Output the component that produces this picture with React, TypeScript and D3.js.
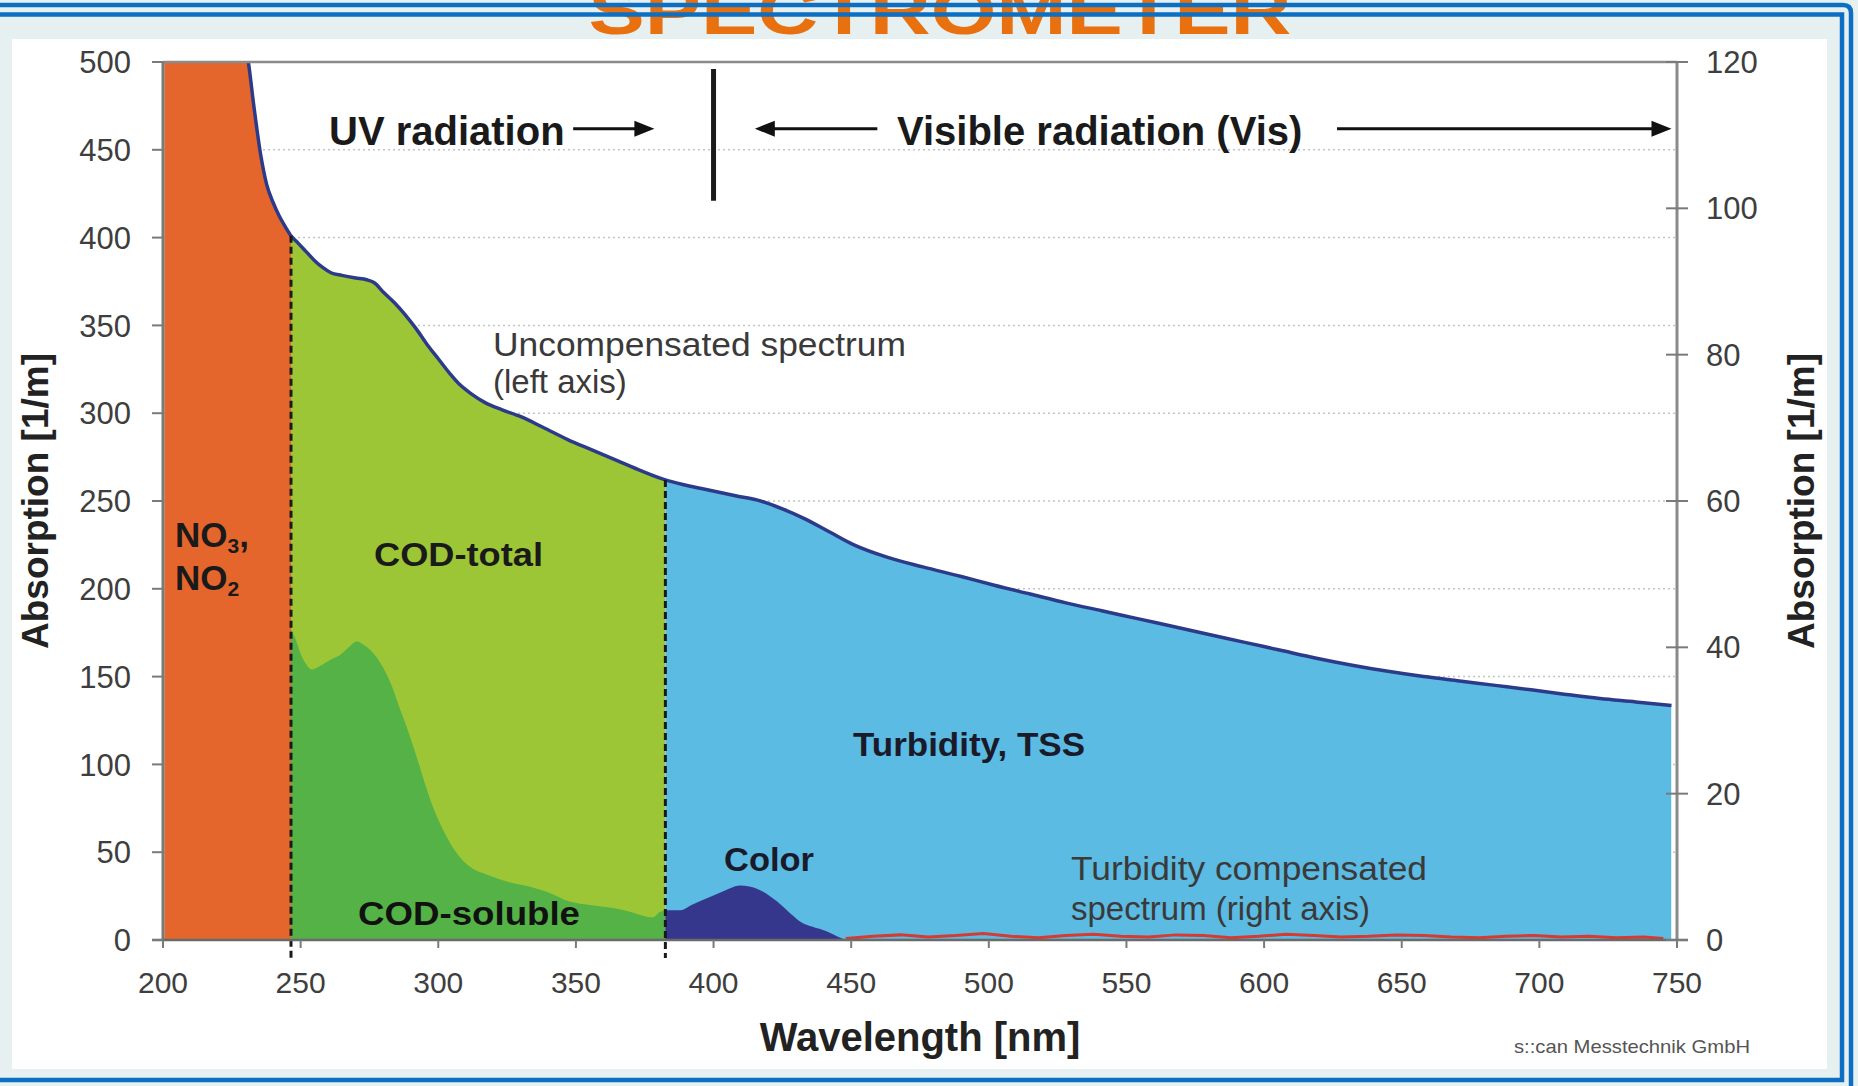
import React from 'react';
import * as d3 from 'd3';

// ---------- data ----------
// Uncompensated spectrum (left axis), wavelength [nm] / absorption [1/m]
const specWl = [
  200, 220, 228, 231, 233, 235.5, 237.7, 240, 242, 244.5,
  246.5, 249, 252, 255, 258, 261, 265, 270, 274, 277,
  280, 284, 288, 292, 296, 300, 304, 308, 312, 317,
  323, 330, 338, 347, 356, 365, 374, 382.5, 390, 399,
  408, 416, 425, 433, 442, 451, 463, 476, 490, 502,
  515, 528, 541, 554, 567, 580, 593, 606, 619, 632,
  645, 658, 671, 684, 697, 709, 722, 735, 748,
];
const specAbs = [
  700, 580, 520, 500, 475, 447, 430, 420, 413, 406,
  401, 397, 392, 387, 383, 380, 378.5, 377, 376, 374,
  369, 363, 356, 348, 339, 331, 323, 316, 311, 306,
  302, 298, 292, 285, 279, 273, 267, 262, 259, 256,
  253, 250.5, 245.5, 240, 232.5, 225, 218, 212.5, 207, 202,
  197, 192, 187.5, 183, 178.5, 174, 169.5, 165, 160.5, 156.5,
  153, 150, 147.5, 145, 142.5, 140, 137.5, 135.6, 133.5,
];

// COD-soluble part (left axis)
const solWl = [
  246.5, 248, 250, 252, 254, 257, 260.7, 264, 267, 270.4,
  273, 277.6, 281, 283.8, 286, 288.5, 292.2, 295.8, 298.5, 301.8,
  306, 311.5, 318, 327, 333, 339.4, 348, 355, 363.5, 370,
  375.7, 378, 380.5, 382.5,
];
const solAbs = [
  176.5, 172, 163, 157, 154, 156, 159.5, 162, 166, 170,
  168, 161, 152, 142, 132, 121.5, 104, 86, 74, 62.6,
  51, 41.7, 37, 32.4, 30.5, 27.5, 21.8, 20, 18.2, 16,
  13.3, 13, 16, 17,
];

// Color part (left axis)
const colWl = [382.5, 388, 392, 398, 404, 409.5, 413, 418, 423, 428, 432, 436, 441, 445, 448];
const colAbs = [17, 17, 20, 24, 28, 31, 30.5, 27.5, 22, 15, 10, 7.5, 5, 2, 0];

// Turbidity compensated spectrum (right axis)
const compWl = [
  448, 458, 468, 478, 488, 498, 508, 518, 528, 538,
  548, 558, 568, 578, 588, 598, 608, 618, 628, 638,
  648, 658, 668, 678, 688, 698, 708, 718, 728, 738, 745,
];
const compAbs = [
  0.2, 0.5, 0.7, 0.4, 0.6, 0.9, 0.5, 0.3, 0.6, 0.8,
  0.5, 0.4, 0.7, 0.6, 0.3, 0.5, 0.8, 0.6, 0.4, 0.5,
  0.7, 0.6, 0.4, 0.3, 0.5, 0.6, 0.4, 0.5, 0.3, 0.4, 0.2,
];

// region boundaries [nm]
const regionBounds = [200.5, 246.5, 382.5, 748];
const regionColors = ['#e5662d', '#9dc637', '#5bbbe3'];
const xTicks = [200, 250, 300, 350, 400, 450, 500, 550, 600, 650, 700, 750];
const yLeftTicks = [0, 50, 100, 150, 200, 250, 300, 350, 400, 450, 500];
const yRightTicks = [0, 20, 40, 60, 80, 100, 120];

const W = 1858;
const H = 1086;
const X0 = 163, X1 = 1677, Y0 = 940, Y1 = 62;
const FONT = "'Liberation Sans', Arial, Helvetica, sans-serif";

export default function App() {
  const x = d3.scaleLinear().domain([200, 750]).range([X0, X1]);
  const yL = d3.scaleLinear().domain([0, 500]).range([Y0, Y1]);
  const yR = d3.scaleLinear().domain([0, 120]).range([Y0, Y1]);

  const spec = specWl.map((w, i) => [w, specAbs[i]] as [number, number]);
  const sol = solWl.map((w, i) => [w, solAbs[i]] as [number, number]);
  const col = colWl.map((w, i) => [w, colAbs[i]] as [number, number]);
  const comp = compWl.map((w, i) => [w, compAbs[i]] as [number, number]);

  const area = d3.area<[number, number]>()
    .x(d => x(d[0])).y0(yL(0)).y1(d => yL(d[1])).curve(d3.curveMonotoneX);
  const line = d3.line<[number, number]>()
    .x(d => x(d[0])).y(d => yL(d[1])).curve(d3.curveMonotoneX);
  const lineR = d3.line<[number, number]>()
    .x(d => x(d[0])).y(d => yR(d[1])).curve(d3.curveLinear);

  const interp = (w: number) => {
    const i = d3.bisector((d: number) => d).left(specWl, w);
    if (i <= 0) return specAbs[0];
    if (i >= specWl.length) return specAbs[specAbs.length - 1];
    const t = (w - specWl[i - 1]) / (specWl[i] - specWl[i - 1]);
    return specAbs[i - 1] + t * (specAbs[i] - specAbs[i - 1]);
  };

  const fullArea = area(spec) || '';
  const arrowY = yL(462);
  const headL = 20, headW = 8;

  const arrowRight = (xa: number, xb: number) => (
    <g>
      <line x1={xa} y1={arrowY} x2={xb - headL + 2} y2={arrowY} stroke="#111" strokeWidth={3} />
      <polygon points={`${xb},${arrowY} ${xb - headL},${arrowY - headW} ${xb - headL},${arrowY + headW}`} fill="#111" />
    </g>
  );
  const arrowLeft = (xa: number, xb: number) => (
    <g>
      <line x1={xa + headL - 2} y1={arrowY} x2={xb} y2={arrowY} stroke="#111" strokeWidth={3} />
      <polygon points={`${xa},${arrowY} ${xa + headL},${arrowY - headW} ${xa + headL},${arrowY + headW}`} fill="#111" />
    </g>
  );

  return (
    <svg width={W} height={H} style={{ position: 'absolute', left: 0, top: 0 }} fontFamily={FONT}>
      <defs>
        <clipPath id="plot">
          <rect x={X0} y={Y1} width={X1 - X0} height={Y0 - Y1} />
        </clipPath>
        {regionColors.map((c, i) => (
          <clipPath id={`reg${i}`} key={i}>
            <rect x={x(regionBounds[i])} y={Y1} width={x(regionBounds[i + 1]) - x(regionBounds[i])} height={Y0 - Y1} />
          </clipPath>
        ))}
      </defs>

      {/* page background */}
      <rect x={0} y={0} width={W} height={H} fill="#e7f0f0" />
      <rect x={12} y={39} width={1815} height={1030} fill="#ffffff" />

      {/* title (cut at top) */}
      <text x={940} y={34} textAnchor="middle" fill="#e8700f" fontWeight="bold" fontSize={66}
        textLength={703} lengthAdjust="spacingAndGlyphs">SPECTROMETER</text>

      {/* blue frame lines */}
      <path d="M0,5 H1843 Q1851,5 1851,13 V1086" fill="none" stroke="#0d6fc1" strokeWidth={4.5} />
      <path d="M0,14.5 H1842 V1080 H0" fill="none" stroke="#0d6fc1" strokeWidth={4.5} />

      {/* grid */}
      {yLeftTicks.filter(t => t > 0 && t < 500).map(t => (
        <line key={t} x1={X0} x2={X1} y1={yL(t)} y2={yL(t)} stroke="#c4c4c4" strokeWidth={1.5} strokeDasharray="2,3" />
      ))}

      {/* region fills */}
      <g clipPath="url(#plot)">
        {regionColors.map((c, i) => (
          <g key={i} clipPath={`url(#reg${i})`}>
            <path d={fullArea} fill={c} />
          </g>
        ))}
        <path d={area(sol) || ''} fill="#55b247" />
        <path d={area(col) || ''} fill="#34378c" />
        <path d={line(spec) || ''} fill="none" stroke="#2c3a8a" strokeWidth={3.5} />
      </g>

      {/* compensated spectrum */}
      <path d={lineR(comp) || ''} fill="none" stroke="#d63a30" strokeWidth={3} />

      {/* dashed separators */}
      {[246.5, 382.5].map(w => (
        <line key={w} x1={x(w)} x2={x(w)} y1={yL(interp(w))} y2={Y0 + 18}
          stroke="#1a1a1a" strokeWidth={3} strokeDasharray="7,4" />
      ))}

      {/* UV / Vis boundary */}
      <line x1={x(400)} x2={x(400)} y1={yL(496)} y2={yL(421)} stroke="#1a1a1a" strokeWidth={5} />

      {/* axes frame */}
      <line x1={X0} x2={X1} y1={Y1} y2={Y1} stroke="#8a8a8a" strokeWidth={2.5} />
      <line x1={X0} x2={X0} y1={Y1} y2={Y0} stroke="#7a7a7a" strokeWidth={3} />
      <line x1={X1} x2={X1} y1={Y1} y2={Y0} stroke="#8a8a8a" strokeWidth={3} />
      <line x1={X0 - 11} x2={X1 + 11} y1={Y0} y2={Y0} stroke="#6a6a6a" strokeWidth={2.5} />

      {/* left ticks */}
      {yLeftTicks.map(t => (
        <g key={t}>
          <line x1={X0 - 11} x2={X0} y1={yL(t)} y2={yL(t)} stroke="#7a7a7a" strokeWidth={2} />
          <text x={131} y={yL(t)} dy="0.36em" textAnchor="end" fontSize={31} fill="#3e3e3e">{t}</text>
        </g>
      ))}
      {/* right ticks */}
      {yRightTicks.map(t => (
        <g key={t}>
          <line x1={X1 - 11} x2={X1 + 11} y1={yR(t)} y2={yR(t)} stroke="#7a7a7a" strokeWidth={2} />
          <text x={1706} y={yR(t)} dy="0.36em" textAnchor="start" fontSize={31} fill="#3e3e3e">{t}</text>
        </g>
      ))}
      {/* bottom ticks */}
      {xTicks.map(t => (
        <g key={t}>
          <line x1={x(t)} x2={x(t)} y1={Y0} y2={Y0 + 8} stroke="#7a7a7a" strokeWidth={2} />
          <text x={x(t)} y={993} textAnchor="middle" fontSize={30} fill="#3e3e3e">{t}</text>
        </g>
      ))}

      {/* axis titles */}
      <text transform={`translate(48,${501}) rotate(-90)`} textAnchor="middle" fontSize={37} fontWeight="bold" fill="#222">Absorption [1/m]</text>
      <text transform={`translate(1814,${501}) rotate(-90)`} textAnchor="middle" fontSize={37} fontWeight="bold" fill="#222">Absorption [1/m]</text>
      <text x={920} y={1051} textAnchor="middle" fontSize={40} fontWeight="bold" fill="#222">Wavelength [nm]</text>

      {/* radiation annotations */}
      <text x={329} y={145} fontSize={40} fontWeight="bold" fill="#1a1a1a">UV radiation</text>
      {arrowRight(x(349), x(378.5))}
      {arrowLeft(x(415), x(459.5))}
      <text x={897} y={145} fontSize={40} fontWeight="bold" fill="#1a1a1a">Visible radiation (Vis)</text>
      {arrowRight(x(626.5), x(748))}

      {/* region labels */}
      <text x={175} y={547} fontSize={35} fontWeight="bold" fill="#1a1a1a">
        NO<tspan fontSize={21} dy={6}>3</tspan><tspan dy={-6}>,</tspan>
      </text>
      <text x={175} y={590} fontSize={35} fontWeight="bold" fill="#1a1a1a">
        NO<tspan fontSize={21} dy={6}>2</tspan>
      </text>
      <text x={374} y={566} fontSize={34} fontWeight="bold" fill="#1a1a1a" textLength={169} lengthAdjust="spacingAndGlyphs">COD-total</text>
      <text x={358} y={925} fontSize={33} fontWeight="bold" fill="#111" textLength={222} lengthAdjust="spacingAndGlyphs">COD-soluble</text>
      <text x={853} y={756} fontSize={33} fontWeight="bold" fill="#1a1a2a" textLength={232} lengthAdjust="spacingAndGlyphs">Turbidity, TSS</text>
      <text x={724} y={871} fontSize={34} fontWeight="bold" fill="#1a1a2a" textLength={90} lengthAdjust="spacingAndGlyphs">Color</text>

      <text x={493} y={356} fontSize={33} fill="#3a3a3a" textLength={413} lengthAdjust="spacingAndGlyphs">Uncompensated spectrum</text>
      <text x={493} y={393} fontSize={33} fill="#3a3a3a">(left axis)</text>
      <text x={1071} y={880} fontSize={33} fill="#3a3a3a" textLength={356} lengthAdjust="spacingAndGlyphs">Turbidity compensated</text>
      <text x={1071} y={920} fontSize={33} fill="#3a3a3a">spectrum (right axis)</text>

      {/* watermark */}
      <text x={1514} y={1053} fontSize={19} fill="#555" textLength={236} lengthAdjust="spacingAndGlyphs">s::can Messtechnik GmbH</text>
    </svg>
  );
}
